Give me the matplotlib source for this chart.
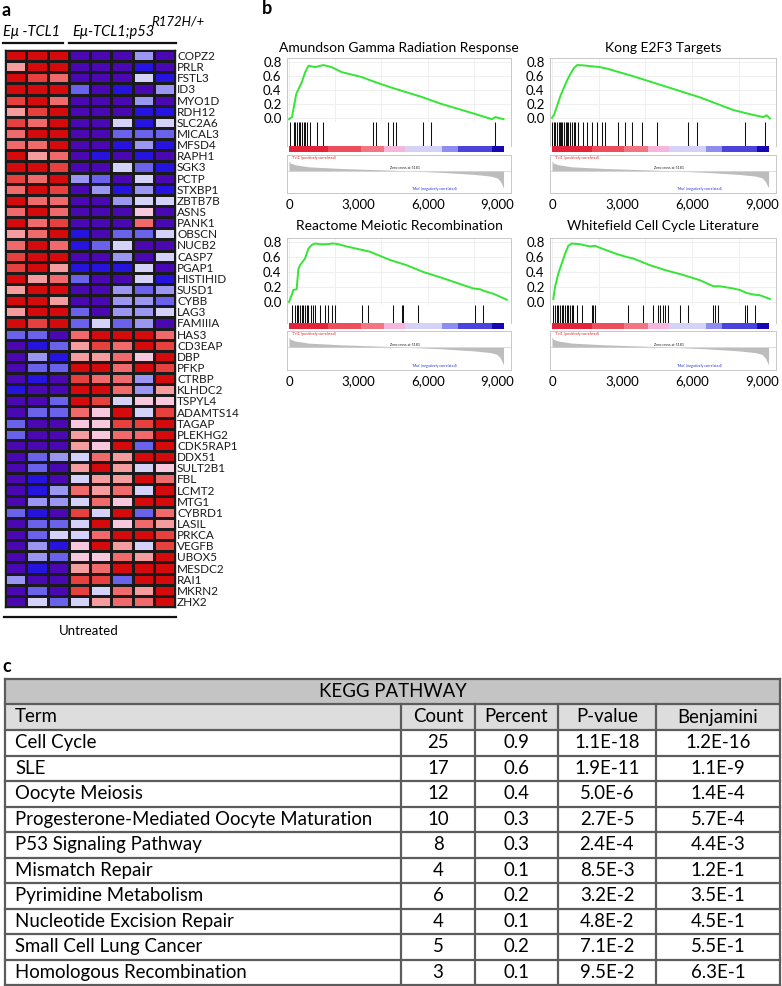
import numpy as np
import matplotlib.pyplot as plt
from matplotlib.colors import ListedColormap, BoundaryNorm
from matplotlib.patches import Rectangle

plt.rcParams['font.family'] = ['Lato', 'DejaVu Sans']

# ---- panel a: heatmap (level codes: 5 deep red ... -5 indigo)
genes = ['COPZ2', 'PRLR', 'FSTL3', 'ID3', 'MYO1D', 'RDH12', 'SLC2A6', 'MICAL3', 'MFSD4',
         'RAPH1', 'SGK3', 'PCTP', 'STXBP1', 'ZBTB7B', 'ASNS', 'PANK1', 'OBSCN', 'NUCB2',
         'CASP7', 'PGAP1', 'HISTIHID', 'SUSD1', 'CYBB', 'LAG3', 'FAMIIIA', 'HAS3', 'CD3EAP',
         'DBP', 'PFKP', 'CTRBP', 'KLHDC2', 'TSPYL4', 'ADAMTS14', 'TAGAP', 'PLEKHG2',
         'CDK5RAP1', 'DDX51', 'SULT2B1', 'FBL', 'LCMT2', 'MTG1', 'CYBRD1', 'LASIL', 'PRKCA',
         'VEGFB', 'UBOX5', 'MESDC2', 'RAI1', 'MKRN2', 'ZHX2']
heat = [
    [5, 5, 5, -5, -5, -5, -2, -5],
    [2, 5, 5, -5, -5, -5, -4, -5],
    [5, 4, 3, -5, -5, -5, -1, -4],
    [5, 5, 5, -3, -5, -4, -5, -2],
    [4, 5, 3, -5, -5, -5, -2, -5],
    [2, 4, 5, -5, -5, -5, -4, -4],
    [4, 3, 5, -5, -5, -1, -4, -1],
    [3, 5, 5, -5, -5, -3, -3, -3],
    [3, 3, 5, -5, -5, -4, -2, -4],
    [5, 2, 3, -5, -4, -5, -4, -5],
    [5, 5, 4, -5, -5, -1, -3, -4],
    [4, 3, 5, -2, -3, -5, -1, -5],
    [3, 5, 4, -5, -2, -4, -2, -4],
    [5, 3, 3, -5, -5, -2, -1, -1],
    [3, 5, 3, -5, -5, -5, 1, -5],
    [5, 3, 4, -5, -5, -5, 3, -5],
    [2, 3, 5, -4, -5, -3, -3, -1],
    [3, 5, 3, -4, -3, -1, -5, -5],
    [4, 5, 5, -5, -5, -2, -5, -1],
    [4, 5, 2, -4, -4, -4, -1, -5],
    [5, 2, 3, -3, -5, -5, -1, -4],
    [2, 5, 5, -5, -5, -2, -3, -2],
    [5, 5, 2, -5, -5, -2, -2, -3],
    [2, 5, 5, -3, -5, -2, -2, -1],
    [5, 4, 5, -3, -1, -3, -2, -5],
    [-3, -3, -5, 3, 5, 5, 5, 3],
    [-5, -4, -3, 2, 4, 3, 5, 4],
    [-5, -2, -4, 2, 2, 3, 1, 5],
    [-5, -3, -3, 5, 5, 3, 5, 4],
    [-5, -4, -5, 4, 3, 3, -2, 5],
    [-4, -5, -5, 5, 5, 3, -2, 2],
    [-5, -5, -3, 5, 4, -1, 1, 1],
    [-5, -3, -3, 3, 1, 5, -1, 4],
    [-3, -5, -5, 1, 1, 4, 4, 5],
    [-3, -5, -5, 2, 1, 3, 3, 5],
    [-5, -5, -5, 2, 1, 5, -3, 5],
    [-5, -3, -2, -1, 3, 2, 5, 5],
    [-5, -3, -5, 2, 5, 2, -1, 1],
    [-5, -4, -5, -1, 2, 2, 5, 3],
    [-5, -4, -2, 3, 2, 3, -1, 5],
    [-5, -2, -2, -1, 3, 1, 5, 5],
    [-3, -4, -5, 4, -1, 5, -3, 3],
    [-5, -3, -3, -1, 5, 1, 3, 2],
    [-5, -3, -1, -1, 3, 5, 5, 4],
    [-5, -2, -4, 1, 5, 2, -1, 4],
    [-5, -2, -3, 1, 1, 3, 2, 5],
    [-5, -4, -5, 2, 3, 5, 5, 5],
    [-2, -5, -5, 4, 4, -3, 5, 5],
    [-5, -3, -5, 4, -1, 3, 2, 5],
    [-5, -1, -3, -1, 2, 3, 3, 5],
]
heat_colors = ['#4a08b2', '#2614de', '#6a62ea', '#9a96f2', '#d4d2f8',
               '#f8c8de', '#f59c9e', '#f06a6c', '#e6403f', '#d40a0c']

# ---- panel b: GSEA enrichment plots
titles = ['Amundson Gamma Radiation Response', 'Kong E2F3 Targets',
          'Reactome Meiotic Recombination', 'Whitefield Cell Cycle Literature']

amundson_rank = [0, 129, 315, 415, 558, 701, 844, 1130, 1488, 1845, 2275, 3133, 3705,
                 4421, 5708, 6567, 7997, 8784, 8927, 9284]
amundson_es = [-0.01, 0.02, 0.35, 0.42, 0.52, 0.66, 0.75, 0.73, 0.76, 0.73, 0.66, 0.59,
               0.52, 0.44, 0.31, 0.21, 0.07, -0.01, 0.02, -0.01]
amundson_hits = [56, 200, 272, 343, 415, 486, 558, 630, 700, 773, 916, 1202, 1488, 3634,
                 3777, 4278, 4492, 4635, 5780, 6137, 8927]

kong_rank = [0, 86, 229, 371, 514, 657, 800, 943, 1086, 1343, 2057, 2343, 3486, 4914,
             6343, 7771, 8629, 9057, 9200, 9343]
kong_es = [0.01, 0.05, 0.19, 0.33, 0.44, 0.55, 0.64, 0.72, 0.76, 0.755, 0.73, 0.71, 0.60,
           0.45, 0.30, 0.12, 0.05, 0.02, 0.045, 0.0]
kong_hits = [20, 90, 150, 210, 280, 330, 400, 450, 520, 580, 640, 700, 780, 850, 930, 1000,
             1100, 1314, 1514, 1700, 1914, 2128, 2271, 2843, 3129, 3414, 3843, 4486, 5843,
             6200, 8271, 9129]

reactome_rank = [0, 115, 188, 332, 404, 476, 693, 837, 981, 1126, 1342, 1630, 1919, 2135,
                 2496, 3218, 3506, 4372, 5094, 5815, 6537, 7980, 8268, 8413, 8846, 9423]
reactome_es = [0.0, 0.09, 0.16, 0.17, 0.44, 0.49, 0.58, 0.71, 0.76, 0.78, 0.77, 0.77, 0.78,
               0.77, 0.74, 0.69, 0.67, 0.56, 0.49, 0.40, 0.33, 0.18, 0.17, 0.15, 0.11, 0.03]
reactome_hits = [115, 260, 332, 404, 476, 548, 620, 693, 765, 837, 938, 1025, 1126, 1342,
                 1558, 1703, 1847, 1991, 3146, 3434, 4517, 4877, 4949, 5599, 8052, 8413]

whitefield_rank = [57, 129, 271, 414, 557, 700, 843, 986, 1200, 1486, 1629, 1843, 1986,
                   2771, 3200, 3486, 4200, 4914, 5629, 6343, 6914, 7200, 7771, 8057, 8343,
                   8629, 8914, 9343]
whitefield_es = [0.04, 0.2, 0.38, 0.51, 0.64, 0.75, 0.78, 0.775, 0.77, 0.75, 0.74, 0.75,
                 0.73, 0.64, 0.60, 0.58, 0.49, 0.42, 0.36, 0.29, 0.21, 0.21, 0.18, 0.16,
                 0.12, 0.10, 0.09, 0.04]
whitefield_hits = [57, 129, 200, 271, 343, 414, 486, 557, 629, 700, 771, 843, 914, 1057,
                   1271, 1700, 1771, 1843, 3271, 3914, 4343, 4557, 4629, 4771, 4843, 4986,
                   5486, 5843, 6914, 6986, 7129, 8271, 8343, 8700]

# ranked list metric (shared)
metric_rank = [0, 56, 272, 844, 2275, 4135, 5137, 6567, 7997, 8713, 9000, 9141, 9213, 9284]
metric_val = [2.0, 1.53, 1.2, 0.8, 0.47, 0.2, 0.0, -0.27, -0.67, -1.0, -1.33, -2.0, -2.67, -3.33]

bar_edges = [0, 1700, 3100, 4100, 5000, 6600, 7300, 8800, 9300]
bar_colors = ['#e3233a', '#ee4d5c', '#f27582', '#f4b6da', '#d4d2f6', '#8e8cee',
              '#4a44dc', '#1606b4']

# ---- panel c: KEGG table
terms = ['Cell Cycle', 'SLE', 'Oocyte Meiosis', 'Progesterone-Mediated Oocyte Maturation',
         'P53 Signaling Pathway', 'Mismatch Repair', 'Pyrimidine Metabolism',
         'Nucleotide Excision Repair', 'Small Cell Lung Cancer', 'Homologous Recombination']
counts = [25, 17, 12, 10, 8, 4, 6, 4, 5, 3]
percents = ['0.9', '0.6', '0.4', '0.3', '0.3', '0.1', '0.2', '0.1', '0.2', '0.1']
pvalues = ['1.1E-18', '1.9E-11', '5.0E-6', '2.7E-5', '2.4E-4', '8.5E-3', '3.2E-2',
           '4.8E-2', '7.1E-2', '9.5E-2']
benjamini = ['1.2E-16', '1.1E-9', '1.4E-4', '5.7E-4', '4.4E-3', '1.2E-1', '3.5E-1',
             '4.5E-1', '5.5E-1', '6.3E-1']

W, H = 782, 986
fig = plt.figure(figsize=(W / 100, H / 100), dpi=100)


def px_axes(l, t, w, h):
    return fig.add_axes([l / W, 1 - (t + h) / H, w / W, h / H])


over = px_axes(0, 0, W, H)
over.set_xlim(0, W)
over.set_ylim(H, 0)
over.axis('off')

# panel a
over.text(2, 10, 'a', fontsize=13, fontweight='bold', va='center', ha='left')
over.text(3, 32, 'E\u03bc -TCL1', fontsize=10.5, style='italic', va='center')
over.text(72, 32, 'E\u03bc-TCL1;p53', fontsize=10.5, style='italic', va='center')
over.text(151, 21, 'R172H/+', fontsize=9.5, style='italic', va='center')
over.plot([3, 63], [42.5, 42.5], color='#111111', lw=1.6)
over.plot([69, 176], [42.5, 42.5], color='#111111', lw=1.6)
over.plot([4, 176], [617, 617], color='#111111', lw=1.6)
over.text(89, 631, 'Untreated', fontsize=9.5, ha='center', va='center')

hm = px_axes(5, 50, 170, 557)
cmap = ListedColormap(heat_colors)
norm = BoundaryNorm([-5.5, -4.5, -3.5, -2.5, -1.5, 0, 1.5, 2.5, 3.5, 4.5, 5.5], cmap.N)
hm.pcolormesh(np.array(heat), cmap=cmap, norm=norm, edgecolors='#1a1a1a', linewidth=0.9)
hm.set_xlim(0, 8)
hm.set_ylim(len(genes), 0)
hm.set_xticks([])
hm.set_yticks(np.arange(len(genes)) + 0.5)
hm.set_yticklabels(genes, fontsize=8.5, color='#1a1a1a')
hm.yaxis.tick_right()
hm.tick_params(length=0, pad=1.5)
for s in hm.spines.values():
    s.set_color('#1a1a1a')
    s.set_linewidth(1)

# panel b
over.text(262, 9, 'b', fontsize=13, fontweight='bold', va='center', ha='left')

rows = {
    'top': dict(title_y=48, es=(58, 64), hits=(122, 24), cbar=(146, 6), rank=(155, 38),
                ylim=(-0.05, 0.86)),
    'bottom': dict(title_y=226, es=(238, 67), hits=(305, 18), cbar=(323, 6), rank=(331, 39),
                   ylim=(-0.04, 0.853)),
}
XLO, XHI = -80, 9600


def gsea(tick0, scale, row, title, es_x, es_y, hits):
    g = rows[row]
    left = tick0 + XLO * scale / 1000
    width = (XHI - XLO) * scale / 1000
    over.text(left + width / 2, g['title_y'], title, fontsize=10, ha='center', va='center')

    ax = px_axes(left, g['es'][0], width, g['es'][1])
    ax.plot(es_x, es_y, color='#35e535', lw=1.4)
    ax.set_xlim(XLO, XHI)
    ax.set_ylim(*g['ylim'])
    ax.set_yticks([0, 0.2, 0.4, 0.6, 0.8])
    ax.set_yticklabels(['0.0', '0.2', '0.4', '0.6', '0.8'], fontsize=9.5)
    ax.set_xticks(range(0, 9601, 2000))
    ax.set_xticklabels([])
    ax.tick_params(length=0, pad=4)
    ax.grid(color='#ececec', lw=0.6)
    for s in ax.spines.values():
        s.set_color('#c8c8c8')
        s.set_linewidth(0.7)
    ax.spines['bottom'].set_color('#888888')

    axh = px_axes(left, g['hits'][0], width, g['hits'][1])
    axh.vlines(hits, 0, 1, color='#111111', lw=0.75)
    axh.set_xlim(XLO, XHI)
    axh.set_ylim(0, 1)
    axh.set_xticks([])
    axh.set_yticks([])
    for k in ['top', 'bottom']:
        axh.spines[k].set_visible(False)
    for k in ['left', 'right']:
        axh.spines[k].set_color('#c8c8c8')
        axh.spines[k].set_linewidth(0.7)

    axc = px_axes(left, g['cbar'][0], width, g['cbar'][1])
    axc.barh(0.5, np.diff(bar_edges), left=bar_edges[:-1], height=1, color=bar_colors)
    axc.set_xlim(XLO, XHI)
    axc.set_ylim(0, 1)
    axc.axis('off')

    axr = px_axes(left, g['rank'][0], width, g['rank'][1])
    axr.fill_between(metric_rank, metric_val, 0, color='#bdbdbd', lw=0)
    axr.axhline(0, color='#d0d0d0', lw=0.5)
    axr.set_xlim(XLO, XHI)
    axr.set_ylim(-4.3, 3.1)
    axr.set_yticks([])
    axr.set_xticks([0, 3000, 6000, 9000])
    axr.set_xticklabels(['0', '3,000', '6,000', '9,000'], fontsize=9.5)
    axr.tick_params(length=0, pad=4)
    for s in axr.spines.values():
        s.set_color('#c8c8c8')
        s.set_linewidth(0.7)
    axr.text(150, 3.0, "'Tcl1' (positively correlated)", fontsize=2.6, color='#e02020',
             va='top')
    axr.text(5000, 0.15, 'Zero cross at 5181', fontsize=2.6, color='#222222',
             va='bottom', ha='center')
    axr.text(6300, -3.6, "'Mut' (negatively correlated)", fontsize=2.6, color='#2030d0',
             va='center', ha='center')


gsea(289, 23.11, 'top', titles[0], amundson_rank, amundson_es, amundson_hits)
gsea(552, 23.33, 'top', titles[1], kong_rank, kong_es, kong_hits)
gsea(289, 23.11, 'bottom', titles[2], reactome_rank, reactome_es, reactome_hits)
gsea(552, 23.33, 'bottom', titles[3], whitefield_rank, whitefield_es, whitefield_hits)

# panel c
over.text(2, 667, 'c', fontsize=13, fontweight='bold', va='center', ha='left')
col_edges = [5, 401, 475, 558, 656, 780]
tab_top, hdr_h, term_h, row_h = 679, 25, 26, 25.5
body_top = tab_top + hdr_h + term_h
tab_bot = body_top + row_h * len(terms)
line_c = '#5c5c5c'

over.add_patch(Rectangle((col_edges[0], tab_top), col_edges[-1] - col_edges[0], hdr_h,
                         fc='#c4c4c4', ec='none'))
over.add_patch(Rectangle((col_edges[0], tab_top + hdr_h), col_edges[-1] - col_edges[0], term_h,
                         fc='#dddddd', ec='none'))
hy = [tab_top, tab_top + hdr_h, body_top] + [body_top + row_h * (i + 1) for i in range(len(terms))]
for y in hy:
    over.plot([col_edges[0], col_edges[-1]], [y, y], color=line_c, lw=1.6)
over.plot([col_edges[0]] * 2, [tab_top, tab_bot], color=line_c, lw=1.6)
over.plot([col_edges[-1]] * 2, [tab_top, tab_bot], color=line_c, lw=1.6)
for x in col_edges[1:-1]:
    over.plot([x, x], [tab_top + hdr_h, tab_bot], color=line_c, lw=1.6)

tfs = 13.4
over.text((col_edges[0] + col_edges[-1]) / 2, tab_top + hdr_h / 2, 'KEGG PATHWAY',
          fontsize=tfs, ha='center', va='center')
headers = ['Term', 'Count', 'Percent', 'P-value', 'Benjamini']
hyc = tab_top + hdr_h + term_h / 2
over.text(15, hyc, headers[0], fontsize=tfs, ha='left', va='center')
for j in range(1, 5):
    over.text((col_edges[j] + col_edges[j + 1]) / 2, hyc, headers[j], fontsize=tfs,
              ha='center', va='center')
for i, t in enumerate(terms):
    yc = body_top + row_h * (i + 0.5)
    over.text(15, yc, t, fontsize=tfs, ha='left', va='center')
    vals = [str(counts[i]), percents[i], pvalues[i], benjamini[i]]
    for j, v in enumerate(vals):
        over.text((col_edges[j + 1] + col_edges[j + 2]) / 2, yc, v, fontsize=tfs,
                  ha='center', va='center')

fig.savefig('out.png', dpi=100)
